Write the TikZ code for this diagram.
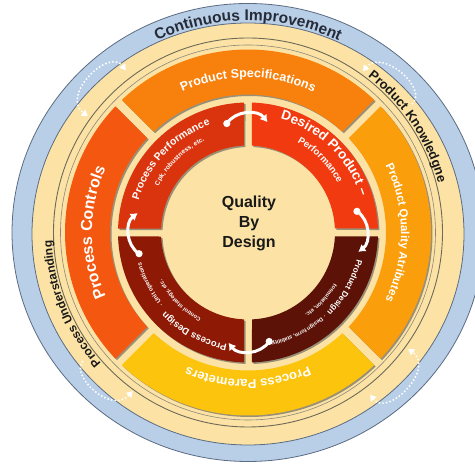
\documentclass[tikz,border=0pt]{standalone}
\usepackage{fontspec}
\setmainfont{Liberation Sans}
\usetikzlibrary{decorations.text,shadows,arrows.meta}
\definecolor{cblue}{HTML}{B9CFE8}
\definecolor{cblueline}{HTML}{5B6B82}
\definecolor{ccream}{HTML}{FCE3A5}
\definecolor{cline}{HTML}{6E6A58}
\definecolor{cps}{HTML}{F8800C}
\definecolor{cpc}{HTML}{F45810}
\definecolor{cpqa}{HTML}{FA9E0C}
\definecolor{cpp}{HTML}{FCC40C}
\definecolor{cperf}{HTML}{DA340E}
\definecolor{cdes}{HTML}{F23A10}
\definecolor{cprod}{HTML}{5C1206}
\definecolor{cproc}{HTML}{8E1A06}
\definecolor{cdark}{HTML}{262B38}
\newcommand\qbdarc[6]{%
  \path[decorate, decoration={text along path, text align=center, text color=#1,
    text={|\bfseries\fontsize{#2}{#2}\selectfont|#6}}]
    ({#3+#5}:#4) arc[start angle={#3+#5}, end angle={#3-#5}, radius=#4pt];}
\tikzset{
  shad/.style={drop shadow={shadow xshift=1.5pt, shadow yshift=-1.5pt, opacity=0.6, fill=black!65}},
  warrow/.style={white, line width=3pt, -{Latex[length=7pt,width=9pt]}},
  dotarr/.style={white, line width=2.1pt, line cap=round, dash pattern=on 0pt off 3.6pt}
}
\begin{document}
\begin{tikzpicture}[x=1pt,y=1pt]
\useasboundingbox (-248,-232.5) rectangle (227,232.5);
\clip (-248,-232.5) rectangle (227,232.5);
\fill[white] (-248,-232.5) rectangle (227,232.5);
% outer blue ring and cream disc
\filldraw[fill=cblue, draw=cblueline, line width=0.8pt] (0,0) ellipse[x radius=236pt, y radius=229pt];
\filldraw[fill=ccream, draw=cblueline, line width=0.8pt] (0,-1.5) ellipse[x radius=216pt, y radius=211pt];
\draw[cline, line width=0.9pt] (0,0) circle[radius=194.5pt];
\draw[cline!80, line width=0.6pt] (0,0) circle[radius=187.5pt];
% outer texts
\qbdarc{cdark}{15.5}{90}{212}{60}{Continuous Improvement}
\qbdarc{black!90}{13}{33.5}{196.5}{55}{Product Knowledgne}
\qbdarc{black!90}{12}{-158}{196.5}{55}{Process Understanding}
% dotted arrows
\draw[dotarr, {Triangle[length=6pt,width=7pt]}-{Triangle[length=6pt,width=7pt]}] (127:203) .. controls (127:232) and (144:232) .. (144:198);
\draw[dotarr, {Triangle[length=6pt,width=7pt]}-{Triangle[length=6pt,width=7pt]}] (307:203) .. controls (307:232) and (324:232) .. (324:198);
\draw[dotarr, {Triangle[length=6pt,width=7pt]}-] (54.5:198) .. controls (54:228) and (38:232) .. (38:207);
\draw[dotarr, -{Triangle[length=6pt,width=7pt]}] (-142:210) .. controls (-141:228) and (-127:228) .. (-126:196);
% orange ring segments
\fill[cps, shad] (46.41:183) arc[start angle=46.41, end angle=133.59, radius=183pt] -- (133.13:138) arc[start angle=133.13, end angle=46.87, radius=138pt] -- cycle;
\fill[cpc, shad] (136.41:183) arc[start angle=136.41, end angle=223.59, radius=183pt] -- (223.13:138) arc[start angle=223.13, end angle=136.87, radius=138pt] -- cycle;
\fill[cpp, shad] (226.41:183) arc[start angle=226.41, end angle=313.59, radius=183pt] -- (313.13:138) arc[start angle=313.13, end angle=226.87, radius=138pt] -- cycle;
\fill[cpqa, shad] (-43.59:183) arc[start angle=-43.59, end angle=43.59, radius=183pt] -- (43.13:138) arc[start angle=43.13, end angle=-43.13, radius=138pt] -- cycle;
% inner quadrants
\fill[cdes, shad] (1.76:130) arc[start angle=1.76, end angle=88.24, radius=130pt] -- (87.37:87) arc[start angle=87.37, end angle=2.64, radius=87pt] -- cycle;
\fill[cperf, shad] (91.76:130) arc[start angle=91.76, end angle=178.24, radius=130pt] -- (177.37:87) arc[start angle=177.37, end angle=92.64, radius=87pt] -- cycle;
\fill[cproc, shad] (181.76:130) arc[start angle=181.76, end angle=268.24, radius=130pt] -- (267.37:87) arc[start angle=267.37, end angle=182.64, radius=87pt] -- cycle;
\fill[cprod, shad] (271.76:130) arc[start angle=271.76, end angle=358.24, radius=130pt] -- (357.37:87) arc[start angle=357.37, end angle=272.64, radius=87pt] -- cycle;
% ring texts
\qbdarc{white}{12.5}{90}{155}{60}{Product Specifications}
\qbdarc{white}{16}{180}{156}{60}{Process Controls}
\qbdarc{white}{11.5}{0}{153}{60}{Product Quality Atributes}
\qbdarc{white}{13}{-90}{147}{60}{Process Paremeters}
% quadrant texts
\qbdarc{white}{10.5}{136.5}{114}{40}{Process Performance}
\qbdarc{white}{6.5}{134}{101}{40}{Cpk, robustness, etc.}
\qbdarc{white}{13.5}{46}{118}{42}{Desired Product –}
\qbdarc{white}{9.5}{45}{102.5}{40}{Performance}
\qbdarc{white}{8.3}{-29.5}{112}{25}{Product Design}
\qbdarc{white}{5.5}{-62.5}{112}{25}{· Design form, stability}
\qbdarc{white}{5.5}{-43}{100}{25}{formulation, etc.}
\qbdarc{white}{9.5}{-118.5}{114}{25}{Process Design}
\qbdarc{white}{6}{-152}{111}{20}{· Unit operations}
\qbdarc{white}{5.6}{-135}{98}{25}{Control strategy, etc.}
% white cycle arrows
\coordinate (aTs) at (101:111); \coordinate (aTe) at (80:112);
\coordinate (aRs) at (11:111);  \coordinate (aRe) at (-10:112);
\coordinate (aBs) at (-79:111); \coordinate (aBe) at (-100:112);
\coordinate (aLs) at (191:111); \coordinate (aLe) at (170:112);
\foreach \p in {aTs,aRs,aBs,aLs} {\fill[white] (\p) circle[radius=3.6pt];}
\draw[warrow] (aTs) to[bend left=55] (aTe);
\draw[warrow] (aRs) to[bend left=55] (aRe);
\draw[warrow] (aBs) to[bend left=55] (aBe);
\draw[warrow] (aLs) to[bend left=55] (aLe);
% centre
\node[font=\bfseries\fontsize{16}{20}\selectfont, align=center, text=black!90] (qbd) at (1,9.5) {Quality\\By\\Design};
\end{tikzpicture}
\end{document}
